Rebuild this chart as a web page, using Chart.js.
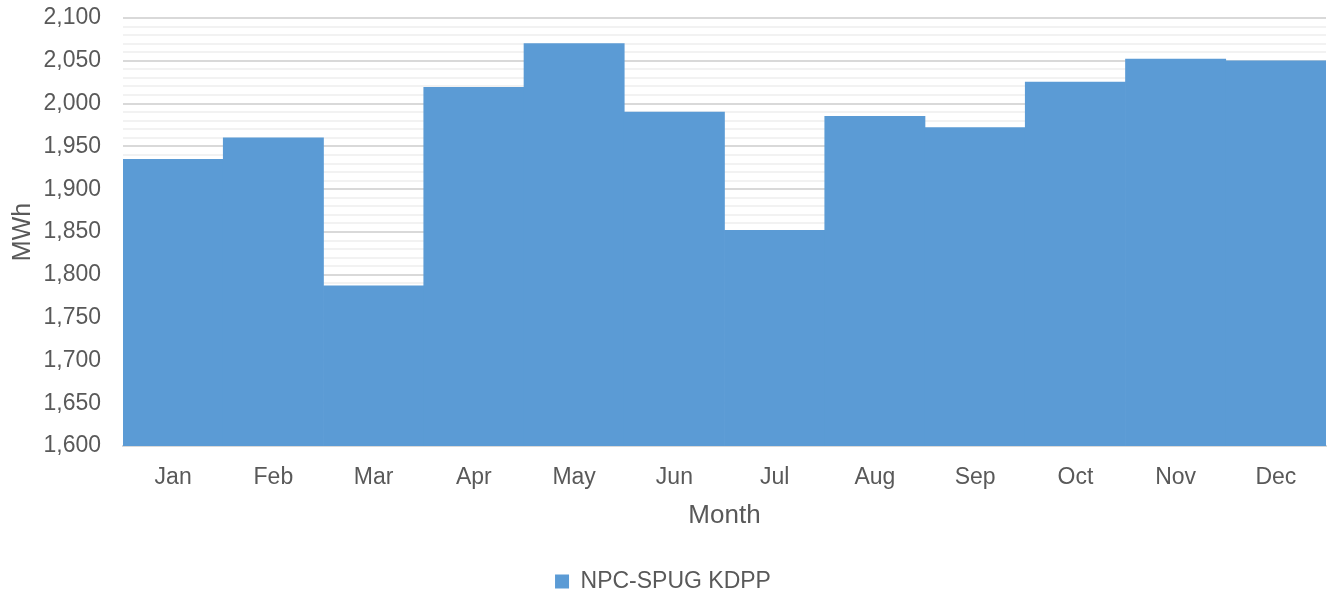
<!DOCTYPE html>
<html>
<head>
<meta charset="utf-8">
<script src="https://cdn.jsdelivr.net/npm/chart.js@4"></script>
<style>
  body { margin: 0; background: #fff; }
  #wrap { width: 1330px; height: 595px; }
</style>
</head>
<body>
<div id="wrap"><canvas id="mwh_chart" width="1330" height="595"></canvas></div>
<script>
// monthly energy
var months = ['Jan', 'Feb', 'Mar', 'Apr', 'May', 'Jun', 'Jul', 'Aug', 'Sep', 'Oct', 'Nov', 'Dec'];
var kdpp_mwh = [1935, 1960, 1787, 2019, 2070, 1990, 1852, 1985, 1972, 2025, 2052, 2050];
var series_name = 'NPC-SPUG KDPP';

var textColor = '#595959';
var fontFamily = '"Liberation Sans", Arial, sans-serif';

const data = {
    labels: months,
    datasets: [{
        label: series_name,
        backgroundColor: '#5b9bd5',
        borderWidth: 0,
        categoryPercentage: 1.0,
        barPercentage: 1.0,
        data: kdpp_mwh,
    }]
};

const config = {
    type: 'bar',
    data: data,
    options: {
        responsive: false,
        animation: false,
        layout: { padding: { left: 0, right: 4, top: 18, bottom: -8 } },
        scales: {
            y: {
                min: 1600,
                max: 2100,
                afterFit: function(scale) {
                    scale.width = 123;
                    scale.paddingTop = 0;
                    scale.paddingBottom = 0;
                },
                border: { display: false },
                grid: {
                    drawTicks: false,
                    color: function(ctx) {
                        if (!ctx.tick) return '#f2f2f2';
                        return ctx.tick.value % 50 === 0 ? '#d9d9d9' : '#f2f2f2';
                    },
                    lineWidth: 2,
                },
                ticks: {
                    stepSize: 10,
                    autoSkip: false,
                    padding: 22,
                    color: textColor,
                    font: { family: fontFamily, size: 23 },
                    callback: function(v) {
                        return v % 50 === 0 ? v.toLocaleString('en-US') : '';
                    }
                },
                title: {
                    display: true,
                    text: 'MWh',
                    color: textColor,
                    font: { family: fontFamily, size: 25 },
                    padding: { top: 8, bottom: 0 }
                }
            },
            x: {
                afterFit: function(scale) { scale.height = 116; },
                border: { display: true, color: '#d9d9d9', width: 2 },
                grid: { display: false },
                ticks: {
                    padding: 10,
                    color: textColor,
                    font: { family: fontFamily, size: 23 }
                },
                title: {
                    display: true,
                    text: 'Month',
                    color: textColor,
                    font: { family: fontFamily, size: 26 },
                    padding: { top: 31, bottom: 31 }
                }
            }
        },
        plugins: {
            legend: {
                display: true,
                position: 'bottom',
                align: 'center',
                labels: {
                    boxWidth: 14,
                    boxHeight: 14,
                    padding: 8,
                    color: textColor,
                    font: { family: fontFamily, size: 23 }
                }
            },
            tooltip: { enabled: false }
        }
    }
};

const myChart = new Chart(document.getElementById('mwh_chart'), config);
</script>
</body>
</html>
